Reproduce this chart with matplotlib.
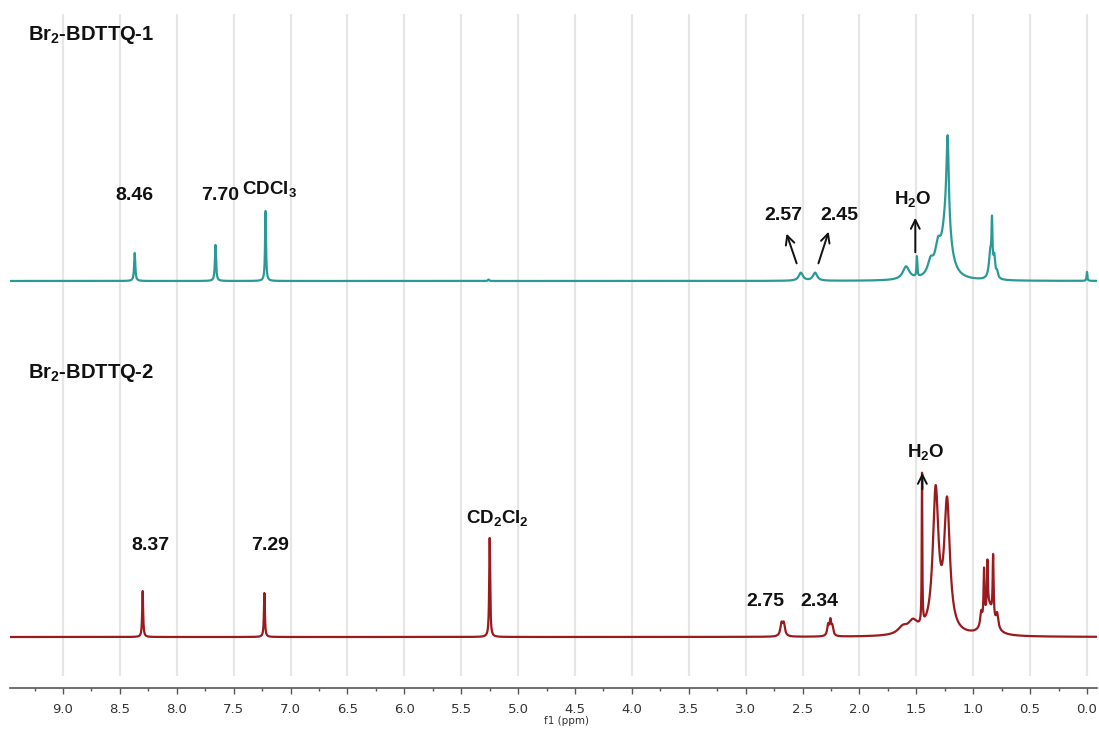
import numpy as np
import matplotlib
matplotlib.use("Agg")
import matplotlib.pyplot as plt
from matplotlib.ticker import MultipleLocator

plt.rcParams['mathtext.fontset'] = 'custom'
plt.rcParams['mathtext.rm'] = 'Liberation Sans:bold'
plt.rcParams['mathtext.it'] = 'Liberation Sans:bold'
plt.rcParams['mathtext.bf'] = 'Liberation Sans:bold'

# ---------------- data: peak lists ----------------
# top spectrum (Br2-BDTTQ-1): position (ppm), height (px), half width (ppm)
top_ppm = [8.37, 7.66, 7.22, 5.26, 2.515, 2.39, 1.59, 1.495, 1.375, 1.31, 1.235, 1.225,
           0.85, 0.835, 0.815, 0.79, 0.0]
top_h   = [28, 36, 70, 1.5, 8, 8, 13, 20, 14, 24, 60, 85, 26, 48, 20, 6, 9]
top_w   = [0.006, 0.006, 0.005, 0.006, 0.022, 0.022, 0.035, 0.004, 0.03, 0.03, 0.045, 0.012,
           0.014, 0.005, 0.01, 0.01, 0.004]

# bottom spectrum (Br2-BDTTQ-2)
bot_ppm = [8.30, 7.23, 5.25, 2.685, 2.665, 2.275, 2.255, 2.238, 1.62, 1.53, 1.45, 1.33, 1.23,
           0.86, 0.93, 0.905, 0.875, 0.825, 0.79]
bot_h   = [46, 44, 99, 12, 12, 11, 14, 9, 7, 12, 150, 140, 128, 28, 14, 50, 48, 62, 14]
bot_w   = [0.005, 0.005, 0.005, 0.012, 0.012, 0.01, 0.008, 0.01, 0.05, 0.05, 0.003, 0.03, 0.03,
           0.045, 0.01, 0.005, 0.005, 0.005, 0.012]

top_offset = 407
bot_offset = 51

x_ticks = np.arange(0.0, 9.01, 0.5)

top_color = "#2a9a96"
bot_color = "#9a1a1e"


def spectrum(x, ppm, h, w):
    y = np.zeros_like(x)
    for p, hh, ww in zip(ppm, h, w):
        y += hh * ww ** 2 / ((x - p) ** 2 + ww ** 2)
    return y


fig = plt.figure(figsize=(10.99, 7.29), dpi=100)
ax = fig.add_axes([10 / 1099, 41 / 729, 1087 / 1099, 674 / 729])

x = np.linspace(9.47, -0.09, 30000)
ax.vlines(x_ticks, 12, 674, color="#e6e6e6", lw=1.6, zorder=0)

ax.plot(x, top_offset + spectrum(x, top_ppm, top_h, top_w), color=top_color, lw=1.6)
ax.plot(x, bot_offset + spectrum(x, bot_ppm, bot_h, bot_w), color=bot_color, lw=1.6)

ax.set_xlim(9.466, -0.088)
ax.set_ylim(0, 674)

for s in ["top", "left", "right"]:
    ax.spines[s].set_visible(False)
ax.spines["bottom"].set_color("#555555")
ax.spines["bottom"].set_linewidth(1.2)
ax.set_yticks([])
ax.set_xticks(x_ticks)
ax.set_xticklabels([f"{v:.1f}" for v in x_ticks])
ax.xaxis.set_minor_locator(MultipleLocator(0.25))
ax.tick_params(axis="x", which="major", length=4, width=1, color="#555555",
               labelsize=9.5, labelcolor="#333333", pad=7)
ax.tick_params(axis="x", which="minor", length=2.5, width=1, color="#555555")
fig.text(566 / 1099, 1 - 721 / 729, "f1 (ppm)", fontsize=7.5, color="#333333",
         ha="center", va="center")

bold = dict(family="Liberation Sans", fontweight="bold", color="#111111")

ax.text(9.31, 653, "Br$_2$-BDTTQ-1", fontsize=14.5, ha="left", va="center", **bold)
ax.text(9.31, 315, "Br$_2$-BDTTQ-2", fontsize=14.5, ha="left", va="center", **bold)

ax.text(8.37, 493, "8.46", fontsize=14, ha="center", va="center", **bold)
ax.text(7.62, 493, "7.70", fontsize=14, ha="center", va="center", **bold)
ax.text(7.19, 499, "CDCl$_3$", fontsize=13.5, ha="center", va="center", **bold)
ax.text(2.67, 473, "2.57", fontsize=14, ha="center", va="center", **bold)
ax.text(2.18, 473, "2.45", fontsize=14, ha="center", va="center", **bold)
ax.text(1.53, 489, "H$_2$O", fontsize=13.5, ha="center", va="center", **bold)

ax.text(8.23, 142, "8.37", fontsize=14, ha="center", va="center", **bold)
ax.text(7.18, 142, "7.29", fontsize=14, ha="center", va="center", **bold)
ax.text(5.18, 170, "CD$_2$Cl$_2$", fontsize=13.5, ha="center", va="center", **bold)
ax.text(2.83, 87, "2.75", fontsize=14, ha="center", va="center", **bold)
ax.text(2.35, 87, "2.34", fontsize=14, ha="center", va="center", **bold)
ax.text(1.42, 236, "H$_2$O", fontsize=13.5, ha="center", va="center", **bold)

arrow = dict(arrowstyle="->", color="#111111", lw=1.4, mutation_scale=16)
ax.annotate("", xy=(2.649, 457), xytext=(2.544, 422), arrowprops=arrow)
ax.annotate("", xy=(2.263, 459), xytext=(2.368, 422), arrowprops=arrow)
ax.annotate("", xy=(1.509, 473), xytext=(1.509, 433), arrowprops=arrow)
ax.annotate("", xy=(1.447, 218), xytext=(1.447, 196), arrowprops=arrow)

fig.savefig("out.png", dpi=100)
